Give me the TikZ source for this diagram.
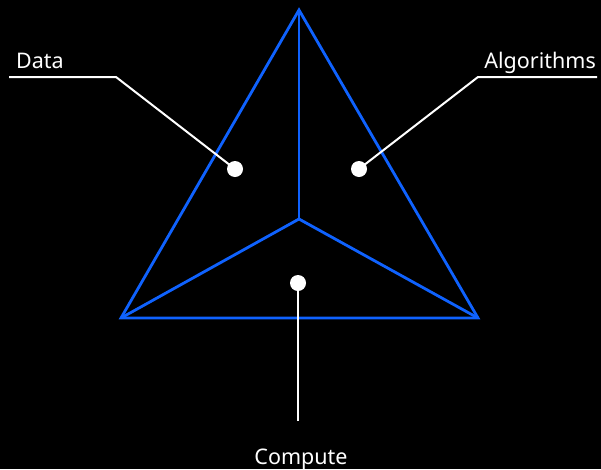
\documentclass[tikz,border=0pt]{standalone}
\usepackage{fontspec}
\setmainfont{Noto Sans}
\definecolor{ibmblue}{HTML}{0F62FE}
\begin{document}
\begin{tikzpicture}[x=1pt,y=-1pt,
  edge/.style={draw=ibmblue,line width=2.8pt,line join=miter},
  leader/.style={draw=white,line width=2pt},
  dot/.style={circle,fill=white,inner sep=0pt,minimum size=16pt},
  lbl/.style={text=white,font=\fontsize{21.5}{26}\selectfont,inner sep=0pt}]
\fill[black] (0,0) rectangle (601,469);
\useasboundingbox (0,0) rectangle (601,469);
% triangle
\coordinate (apex) at (299,10);
\coordinate (bl) at (121,318);
\coordinate (br) at (478,318);
\coordinate (ctr) at (299,219);
\draw[edge] (apex) -- (bl) -- (br) -- cycle;
\draw[edge] (ctr) -- (apex);
\draw[edge] (ctr) -- (bl);
\draw[edge] (ctr) -- (br);
% dots
\node[dot] (d1) at (235,169) {};
\node[dot] (d2) at (359,169) {};
\node[dot] (d3) at (298,283) {};
% labels
\node[lbl,anchor=base west] (ldata) at (16,68) {Data};
\node[lbl,anchor=base east] (lalg) at (596,68) {Algorithms};
\node[lbl,anchor=base] (lcomp) at (301,464) {Compute};
% leaders
\coordinate (a1) at (9,77);
\coordinate (b1) at (116,77);
\coordinate (a2) at (597,77);
\coordinate (b2) at (478,77);
\coordinate (a3) at (298,421);
\draw[leader] (a1) -- (b1) -- (d1.center);
\draw[leader] (a2) -- (b2) -- (d2.center);
\draw[leader] (a3) -- (d3.center);
\end{tikzpicture}
\end{document}
